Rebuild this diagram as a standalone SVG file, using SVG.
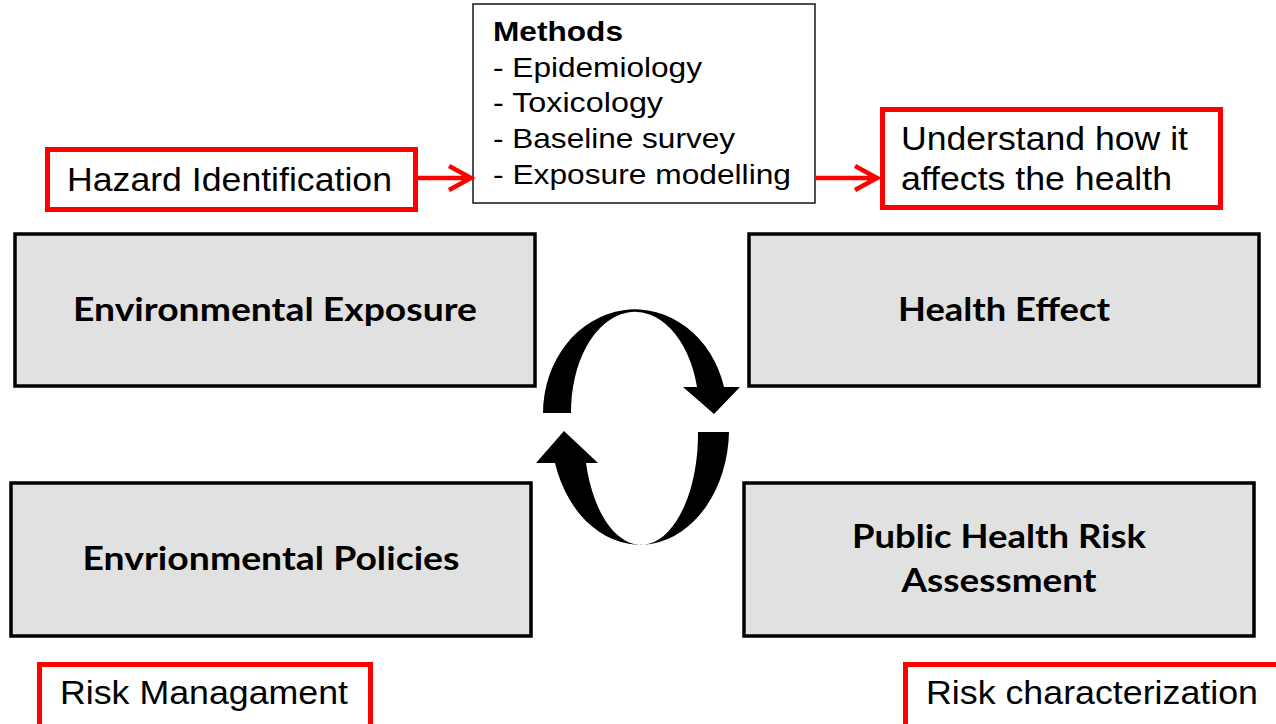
<svg xmlns="http://www.w3.org/2000/svg" width="1276" height="724" viewBox="0 0 1276 724">
<style>
.gbox{fill:#e1e1e1;stroke:#000;stroke-width:3.5}
.rbox{fill:#fff;stroke:#ff0000;stroke-width:5}
.mbox{fill:#fff;stroke:#222;stroke-width:1.6}
.bt{font-family:Lato,"Open Sans",sans-serif;font-weight:700;font-size:33px;fill:#000;text-anchor:middle}
.at{font-family:"Liberation Sans",Arial,sans-serif;font-size:33px;fill:#000}
.mt{font-family:"Liberation Sans",Arial,sans-serif;font-size:28px;fill:#000}
.red{fill:none;stroke:#ff0000;stroke-width:4.5}
</style>
<rect width="1276" height="724" fill="#fff"/>
<g id="env-exposure"><rect class="gbox" x="15" y="234" width="520" height="152"/><text class="bt" x="275" y="321" textLength="404" lengthAdjust="spacingAndGlyphs">Environmental Exposure</text></g>
<g id="health-effect"><rect class="gbox" x="749" y="234" width="510" height="152"/><text class="bt" x="1004" y="321" textLength="212" lengthAdjust="spacingAndGlyphs">Health Effect</text></g>
<g id="env-policies"><rect class="gbox" x="11" y="483" width="520" height="153"/><text class="bt" x="271" y="570" textLength="377" lengthAdjust="spacingAndGlyphs">Envrionmental Policies</text></g>
<g id="risk-assessment"><rect class="gbox" x="744" y="483" width="510" height="153"/><text class="bt" x="999" y="548" textLength="294" lengthAdjust="spacingAndGlyphs">Public Health Risk</text><text class="bt" x="999" y="592" textLength="195" lengthAdjust="spacingAndGlyphs">Assessment</text></g>
<g id="methods"><rect class="mbox" x="473" y="4" width="342" height="199"/>
<text class="mt" x="493" y="41" font-weight="700" textLength="130" lengthAdjust="spacingAndGlyphs">Methods</text>
<text class="mt" x="493" y="77" textLength="209" lengthAdjust="spacingAndGlyphs">- Epidemiology</text>
<text class="mt" x="493" y="112" textLength="170" lengthAdjust="spacingAndGlyphs">- Toxicology</text>
<text class="mt" x="493" y="148" textLength="242" lengthAdjust="spacingAndGlyphs">- Baseline survey</text>
<text class="mt" x="493" y="184" textLength="298" lengthAdjust="spacingAndGlyphs">- Exposure modelling</text></g>
<g id="hazard"><rect class="rbox" x="47.5" y="149.5" width="368" height="60"/><text class="at" x="67" y="191" textLength="325" lengthAdjust="spacingAndGlyphs">Hazard Identification</text></g>
<g id="understand"><rect class="rbox" x="882.5" y="109.5" width="338" height="98"/><text class="at" x="901" y="150" textLength="287" lengthAdjust="spacingAndGlyphs">Understand how it</text><text class="at" x="901" y="190" textLength="271" lengthAdjust="spacingAndGlyphs">affects the health</text></g>
<g id="risk-management"><rect class="rbox" x="39.5" y="664.5" width="331" height="70"/><text class="at" x="60" y="704" textLength="288" lengthAdjust="spacingAndGlyphs">Risk Managament</text></g>
<g id="risk-characterization"><rect class="rbox" x="905.5" y="664.5" width="390" height="70"/><text class="at" x="926" y="704" textLength="332" lengthAdjust="spacingAndGlyphs">Risk characterization</text></g>
<g id="connectors">
<path class="red" d="M418 178 H468 M449 166 L471 178 L449 190"/>
<path class="red" d="M815 178 H874 M855 166 L877 178 L855 190"/>
<path fill="#000" d="M543 413 A92 104 0 0 1 724 387 L740 387 L714 414 L683 387 L697 387 A64 100 0 0 0 571 413 Z"/>
<path fill="#000" d="M729 432 A89 116 0 0 1 555 463 L536 463 L564 431 L598 463 L586 463 A57 111 0 0 0 698 432 Z"/>
</g>
</svg>
